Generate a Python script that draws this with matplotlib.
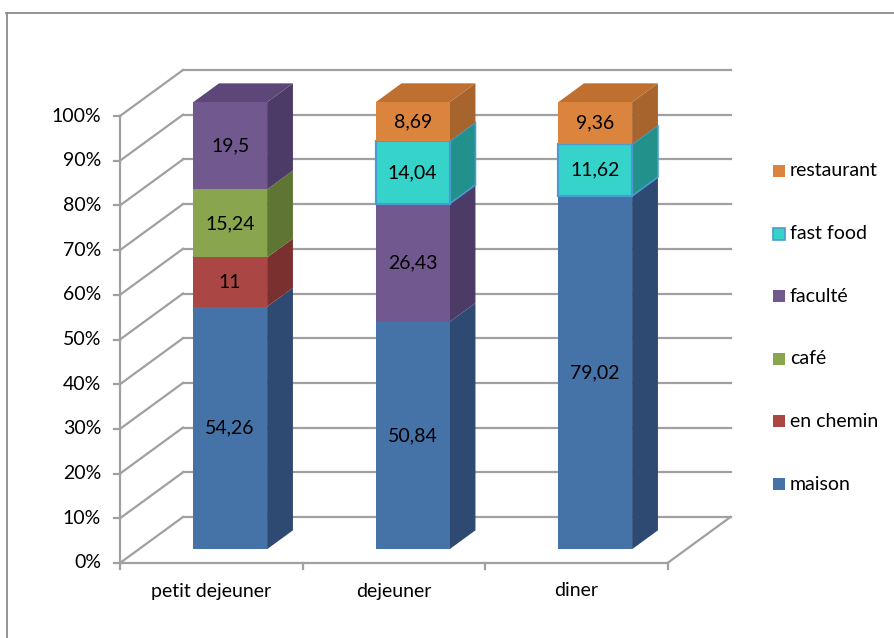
import matplotlib
matplotlib.use("Agg")
import matplotlib.pyplot as plt
from matplotlib.patches import Polygon, Rectangle
from matplotlib.lines import Line2D

plt.rcParams['font.family'] = ['Lato', 'DejaVu Sans']

# ---- data -------------------------------------------------------------
categories = ["petit dejeuner", "dejeuner", "diner"]
series_names = ["maison", "en chemin", "café", "faculté", "fast food", "restaurant"]
maison     = [54.26, 50.84, 79.02]
en_chemin  = [11.00, 0.0, 0.0]
cafe       = [15.24, 0.0, 0.0]
faculte    = [19.50, 26.43, 0.0]
fast_food  = [0.0, 14.04, 11.62]
restaurant = [0.0, 8.69, 9.36]
series_values = [maison, en_chemin, cafe, faculte, fast_food, restaurant]
ytick_labels = ["0%", "10%", "20%", "30%", "40%", "50%", "60%", "70%", "80%", "90%", "100%"]

# ---- styling ------------------------------------------------------------
front_col = ["#4572A7", "#AA4643", "#89A54E", "#71588F", "#36D3CB", "#DB843D"]
side_col  = ["#2E4A72", "#7A302E", "#5E7534", "#4C3B66", "#22918B", "#A8642D"]
top_col   = ["#3A5F8E", "#8E3A38", "#718C40", "#5C4778", "#2AAFA8", "#BF6F30"]
edge_col  = [None, None, None, None, "#4A9BD0", None]
grid_col = "#A0A0A0"
fs = 14

W, H = 894, 638
fig = plt.figure(figsize=(W / 100, H / 100), dpi=100)
ax = fig.add_axes([0, 0, 1, 1])

# pixel geometry of the plot box: category unit and percent unit
x0_px, y0_px = 120.0, 563.0
cat_px, pct_px = 182.5, 4.47
ax.set_xlim(-x0_px / cat_px, (W - x0_px) / cat_px)
ax.set_ylim((y0_px - H) / pct_px, y0_px / pct_px)
ax.axis("off")

# oblique depth projection (depth z in 0..1)
DX, DY = 63.0 / cat_px, 46.0 / pct_px


def P(x, y, z):
    return (x + z * DX, y + z * DY)


ncat = len(categories)
lw = 1.6

# back wall gridlines and left side diagonals
for k in range(len(ytick_labels)):
    y = 10 * k
    ax.add_line(Line2D(*zip(P(0, y, 1), P(ncat, y, 1)), color=grid_col, lw=lw, zorder=1))
    ax.add_line(Line2D(*zip(P(0, y, 0), P(0, y, 1)), color=grid_col, lw=lw, zorder=1))
    # tick mark and label on the front axis
    ax.add_line(Line2D([0, -6 / cat_px], [y, y], color=grid_col, lw=lw, zorder=1))
    ax.text(-19 / cat_px, y, ytick_labels[k], ha="right", va="center", fontsize=fs, color="black")

# floor edges and front axis
ax.add_line(Line2D(*zip(P(0, 0, 0), P(ncat, 0, 0)), color=grid_col, lw=lw, zorder=1))
ax.add_line(Line2D(*zip(P(ncat, 0, 0), P(ncat, 0, 1)), color=grid_col, lw=lw, zorder=1))
ax.add_line(Line2D([0, 0], [0, 100], color=grid_col, lw=lw, zorder=1))
for i in range(ncat + 1):
    ax.add_line(Line2D([i, i], [0, -6 / pct_px], color=grid_col, lw=lw, zorder=1))

# bars
bw, z0, z1 = 0.405, 0.30, 0.71
for i, cat in enumerate(categories):
    xl = i + 0.5 - bw / 2
    xr = i + 0.5 + bw / 2
    base = 0.0
    seg = [(s, series_values[s][i]) for s in range(len(series_names)) if series_values[s][i] > 0]
    for j, (s, v) in enumerate(seg):
        y0, y1 = base, base + v
        zo = 3 + j * 0.01
        front = [P(xl, y0, z0), P(xr, y0, z0), P(xr, y1, z0), P(xl, y1, z0)]
        side = [P(xr, y0, z0), P(xr, y0, z1), P(xr, y1, z1), P(xr, y1, z0)]
        ec = edge_col[s]
        ax.add_patch(Polygon(side, closed=True, fc=side_col[s], ec=ec if ec else "none",
                             lw=1.2 if ec else 0, zorder=zo))
        if j == len(seg) - 1:
            top = [P(xl, y1, z0), P(xr, y1, z0), P(xr, y1, z1), P(xl, y1, z1)]
            ax.add_patch(Polygon(top, closed=True, fc=top_col[s], ec="none", zorder=zo))
        ax.add_patch(Polygon(front, closed=True, fc=front_col[s], ec=ec if ec else "none",
                             lw=1.6 if ec else 0, zorder=zo + 0.005))
        cx, cy = P(i + 0.5, (y0 + y1) / 2, z0)
        ax.text(cx, cy, f"{v:g}".replace(".", ","), ha="center", va="center",
                fontsize=fs, color="black", zorder=10)
        base = y1
    ax.text(i + 0.5, -28 / pct_px, cat, ha="center", va="center", fontsize=fs, color="black")

# legend (top entry = last series)
leg_x_px, leg_y0_px, leg_step = 773, 171, 62.6
for k, s in enumerate(reversed(range(len(series_names)))):
    yc = leg_y0_px + k * leg_step
    sq = 12
    fig.patches.append(Rectangle(((leg_x_px) / W, (H - yc - sq / 2) / H), sq / W, sq / H,
                                 transform=fig.transFigure, fc=front_col[s],
                                 ec=edge_col[s] if edge_col[s] else "none",
                                 lw=1.2 if edge_col[s] else 0))
    fig.text((leg_x_px + 17) / W, (H - yc) / H, series_names[s], ha="left", va="center",
             fontsize=fs, color="black")

# chart frame
fig.add_artist(Line2D([7 / W, 7 / W], [0, (H - 12.5) / H], transform=fig.transFigure,
                      color="#8C8C8C", lw=1.3))
fig.add_artist(Line2D([6.4 / W, 1], [(H - 12.5) / H, (H - 12.5) / H], transform=fig.transFigure,
                      color="#8C8C8C", lw=1.3))

fig.savefig("out.png", dpi=100, facecolor="white")
